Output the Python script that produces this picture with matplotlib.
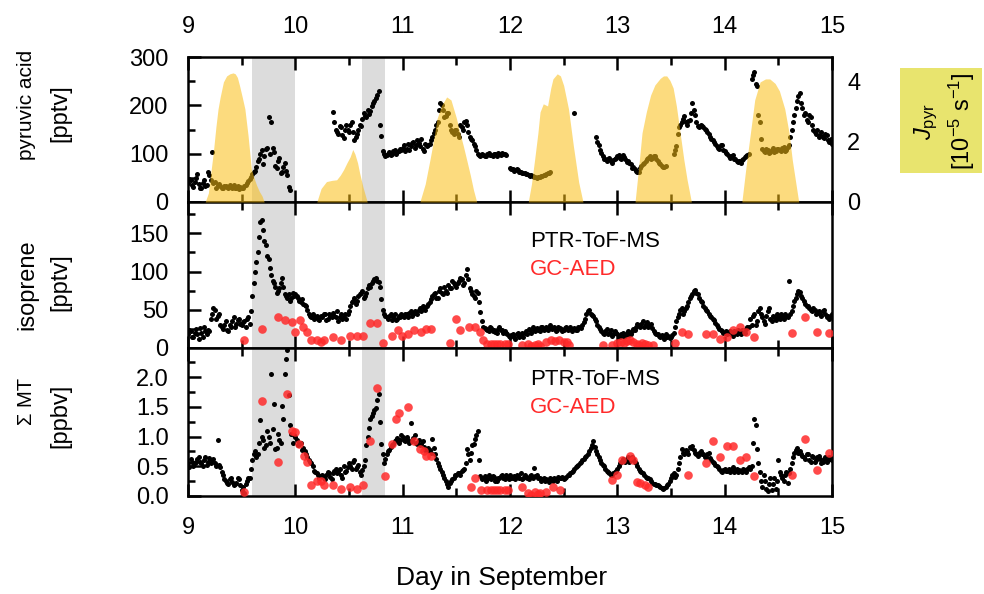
import numpy as np
import matplotlib
matplotlib.use('Agg')
import matplotlib.pyplot as plt
from matplotlib.ticker import MultipleLocator
from matplotlib.patches import Rectangle

plt.rcParams['font.family'] = ['Liberation Sans', 'DejaVu Sans']
plt.rcParams['mathtext.fontset'] = 'custom'
plt.rcParams['mathtext.rm'] = 'Liberation Sans'
plt.rcParams['mathtext.it'] = 'Liberation Sans:italic'

nan = np.nan

# PTR-ToF-MS series, read every 0.025 day from day 9.0 ("_a", 241 values)
# and at the half steps in between ("_b", 240 values)
t0 = 9.0
dt = 0.025

pyruvic_a = [
    40, 45, 32, 50, 38, 28, 46, 36, 55, 104,
    42, 36, 33, 30, 34, 28, 31, 35, 30, 27,
    30, 33, 40, 48, 58, 64, 85, 100, 78, 110,
    176, 166, 104, 70, 92, 62, 80, 55, 25, nan,
    nan, nan, nan, nan, nan, nan, nan, nan, nan, nan,
    nan, nan, nan, nan, 186, 150, 140, 155, 132, 160,
    145, 165, 128, 140, 160, 172, 178, 190, 188, 205,
    215, 230, 137, 100, 97, 104, 100, 108, 103, 110,
    112, 105, 120, 115, 125, 118, 122, 130, 105, 115,
    120, 135, 150, 165, 205, 190, 178, 185, 150, 140,
    148, 135, 155, 165, 160, 135, 128, 115, 100, 96,
    98, 95, 102, 97, 100, 96, 99, 102, 100, nan,
    70, 68, 66, 67, 62, 60, 58, 55, 55, 52,
    50, 52, 54, 56, 59, 62, nan, nan, nan, nan,
    nan, nan, nan, nan, 185, nan, nan, nan, nan, nan,
    nan, nan, 135, 118, 101, 90, 85, 92, 80, 88,
    95, 92, 98, 90, 85, 78, 72, 65, 62, 75,
    80, 88, 95, 92, 96, 85, 78, 72, 75, nan,
    nan, 100, 115, 155, 165, 178, 160, 170, 204, 180,
    158, 160, 155, 150, 140, 130, 125, 115, 110, 118,
    105, 100, 92, 98, 88, 82, 80, 90, 95, 100,
    255, 270, 240, 165, 110, 104, 108, 103, 112, 106,
    110, 105, 113, 108, 118, 150, 180, 210, 225, 195,
    185, 165, 175, 150, 140, 135, 145, 132, 138, 125,
    120,
]
pyruvic_b = [
    48, 35, 42, 58, 30, 40, 33, 62, 45, 40,
    30, 38, 29, 33, 31, 36, 30, 29, 34, 31,
    28, 36, 44, 52, 62, 72, 90, 108, 95, 112,
    100, 112, 75, 85, 60, 72, 65, 32, nan, nan,
    nan, nan, nan, nan, nan, nan, nan, nan, nan, nan,
    nan, nan, nan, nan, 165, 145, 158, 138, 148, 150,
    160, 145, 135, 150, 158, 185, 175, 182, 198, 210,
    222, 160, 105, 96, 100, 98, 105, 100, 106, 108,
    118, 110, 108, 122, 112, 128, 115, 110, 120, 118,
    128, 142, 160, 190, 200, 175, 185, 160, 145, 150,
    140, 160, 150, 168, 145, 130, 120, 108, 98, 100,
    96, 100, 98, 95, 99, 101, 97, 100, 98, nan,
    69, 64, 68, 63, 61, 59, 57, 54, 53, 51,
    51, 53, 55, 58, 60, nan, nan, nan, nan, nan,
    nan, nan, nan, nan, nan, nan, nan, nan, nan, nan,
    nan, nan, 125, 108, 95, 88, 90, 84, 86, 92,
    98, 88, 94, 82, 80, 70, 68, 63, 70, 78,
    84, 92, 90, 95, 90, 80, 74, 73, nan, nan,
    nan, 108, 140, 160, 172, 165, 168, 185, 190, 165,
    155, 158, 152, 145, 135, 128, 120, 112, 118, 108,
    102, 96, 95, 90, 85, 84, 86, 93, 98, nan,
    262, 245, 180, 130, 106, 110, 102, 108, 104, 110,
    108, 112, 106, 114, 135, 165, 195, 220, 205, 180,
    170, 180, 160, 145, 148, 138, 135, 140, 128, 130,
]

isoprene_a = [
    18, 22, 15, 25, 12, 20, 28, 18, 22, 45,
    50, 42, 30, 25, 35, 22, 28, 40, 32, 38,
    30, 35, 38, 32, 68, 99, 125, 165, 155, 135,
    116, 95, 85, 72, 78, 92, 70, 65, 62, 72,
    70, 65, 60, 58, 55, 45, 40, 38, 42, 36,
    40, 45, 38, 42, 46, 40, 35, 44, 40, 38,
    48, 60, 65, 62, 70, 75, 68, 78, 80, 88,
    92, 86, 64, 45, 40, 42, 36, 44, 38, 40,
    42, 45, 40, 48, 44, 46, 50, 48, 52, 55,
    60, 68, 72, 65, 78, 70, 75, 82, 78, 85,
    80, 88, 90, 85, 103, 78, 70, 65, 72, 47,
    28, 25, 22, 26, 24, 20, 27, 23, 22, 18,
    15, 18, 12, 20, 16, 14, 22, 25, 20, 24,
    26, 22, 28, 25, 24, 30, 26, 22, 28, 25,
    24, 27, 25, 22, 26, 24, 28, 30, 38, 48,
    45, 42, 35, 28, 22, 18, 25, 20, 16, 22,
    18, 14, 20, 16, 22, 18, 25, 28, 30, 32,
    28, 34, 30, 26, 20, 18, 15, 14, 18, 16,
    14, 20, 35, 45, 52, 48, 55, 65, 70, 76,
    70, 62, 55, 50, 45, 40, 36, 30, 25, 22,
    20, 18, 22, 16, 20, 24, 18, 22, 25, 28,
    30, 45, 35, 52, 40, 32, 48, 38, 42, 36,
    40, 45, 38, 42, 88, 48, 62, 70, 73, 65,
    58, 55, 50, 52, 45, 48, 42, 50, 40, 38,
    45,
]
isoprene_b = [
    24, 14, 20, 18, 26, 15, 22, 24, 38, 52,
    38, 45, 28, 30, 24, 30, 35, 28, 36, 32,
    34, 28, 40, 48, 85, 112, 145, 168, 140, 120,
    105, 88, 80, 75, 85, 80, 68, 70, 66, 68,
    68, 62, 64, 56, 50, 42, 44, 40, 38, 42,
    44, 36, 45, 40, 42, 48, 40, 38, 44, 45,
    55, 62, 58, 68, 72, 66, 72, 82, 85, 90,
    88, 80, 50, 42, 38, 45, 40, 36, 42, 44,
    40, 44, 46, 42, 48, 45, 52, 55, 50, 58,
    64, 70, 66, 75, 72, 80, 72, 78, 88, 82,
    85, 92, 82, 95, 90, 75, 68, 74, 60, 35,
    26, 24, 28, 22, 21, 25, 24, 20, 19, 16,
    17, 14, 18, 15, 19, 20, 18, 23, 27, 22,
    24, 27, 23, 28, 26, 25, 28, 24, 26, 22,
    26, 23, 28, 25, 24, 27, 26, 34, 44, 50,
    43, 38, 30, 25, 20, 22, 18, 24, 18, 20,
    16, 18, 15, 20, 17, 22, 24, 32, 28, 35,
    32, 28, 32, 22, 18, 16, 17, 12, 15, 13,
    17, 28, 40, 50, 45, 52, 60, 68, 74, 72,
    66, 60, 52, 48, 42, 38, 33, 28, 24, 20,
    22, 20, 18, 22, 18, 20, 24, 20, 27, 38,
    42, 30, 48, 45, 35, 42, 52, 35, 40, 44,
    38, 42, 44, 40, 45, 55, 66, 75, 68, 62,
    55, 52, 48, 50, 46, 44, 48, 45, 42, 40,
]

monoterpenes_a = [
    0.55, 0.62, 0.50, 0.58, 0.65, 0.55, 0.60, 0.52, 0.64, 0.60,
    0.55, 0.95, 0.48, 0.35, 0.25, 0.20, 0.30, 0.18, 0.22, 0.28,
    0.10, 0.05, 0.25, 0.30, 0.60, 0.75, 0.70, 1.28, 0.95, 0.85,
    1.00, 2.05, 1.54, 0.80, 0.95, 1.51, 2.05, 2.45, 1.19, 0.90,
    1.00, 0.85, 0.90, 0.80, 0.70, 0.60, 0.55, 0.42, 0.38, 0.30,
    0.35, 0.28, 0.40, 0.32, 0.38, 0.45, 0.40, 0.35, 0.50, 0.42,
    0.55, 0.45, 0.60, 0.48, 0.40, 0.44, 0.60, 1.00, 1.30, 1.40,
    1.48, 1.71, 0.87, 0.56, 0.70, 0.78, 0.85, 0.92, 0.98, 0.95,
    1.00, 0.92, 0.95, 1.22, 0.98, 0.90, 0.95, 0.88, 0.82, 0.75,
    0.78, 0.96, 0.70, 0.55, 0.45, 0.35, 0.25, 0.15, 0.25, 0.30,
    0.35, 0.38, 0.42, 0.45, 0.79, 0.60, 0.85, 0.96, 1.10, 0.33,
    0.30, 0.25, 0.35, 0.28, 0.32, 0.25, 0.30, 0.35, 0.28, 0.32,
    0.35, 0.30, 0.28, 0.33, 0.38, 0.30, 0.32, 0.28, 0.35, 0.47,
    0.35, 0.30, 0.28, 0.25, 0.27, 0.30, 0.26, 0.28, 0.32, 0.30,
    0.28, 0.32, 0.35, 0.40, 0.45, 0.50, 0.55, 0.60, 0.65, 0.70,
    0.80, 0.93, 0.75, 0.65, 0.55, 0.50, 0.42, 0.38, 0.35, 0.40,
    0.45, 0.55, 0.62, 0.58, 0.65, 0.60, 0.62, 0.55, 0.45, 0.40,
    0.35, 0.30, 0.28, 0.22, 0.20, 0.18, 0.15, 0.12, 0.15, 0.20,
    0.30, 0.38, 0.35, 0.56, 0.79, 0.70, 0.75, 0.82, 0.84, 0.72,
    0.68, 0.75, 0.70, 0.65, 0.72, 0.60, 0.55, 0.50, 0.45, 0.40,
    0.45, 0.42, 0.40, 0.48, 0.44, 0.40, 0.42, 0.45, 0.40, 0.48,
    0.50, 1.30, 0.79, 0.40, 0.15, 0.25, 0.08, 0.30, 0.20, 0.12,
    0.60, 0.35, 0.25, 0.40, 0.38, 0.55, 0.72, 0.80, 0.75, 0.68,
    0.62, 0.70, 0.58, 0.65, 0.60, 0.68, 0.55, 0.62, 0.58, 0.65,
    0.60,
]
monoterpenes_b = [
    0.48, 0.58, 0.55, 0.62, 0.58, 0.50, 0.66, 0.58, 0.55, 0.62,
    0.50, 0.52, 0.40, 0.28, 0.22, 0.28, 0.24, 0.20, 0.30, 0.18,
    0.15, 0.20, 0.30, 0.45, 0.70, 0.65, 0.90, 1.00, 0.80, 1.10,
    0.90, 1.13, 0.79, 1.05, 0.90, 1.30, 2.31, 1.70, 1.05, 1.02,
    0.95, 0.88, 0.78, 0.75, 0.65, 0.58, 0.50, 0.40, 0.35, 0.33,
    0.30, 0.35, 0.38, 0.28, 0.42, 0.38, 0.45, 0.30, 0.40, 0.48,
    0.50, 0.58, 0.45, 0.52, 0.36, 0.50, 0.85, 1.15, 1.35, 1.45,
    1.62, 1.25, 0.70, 0.62, 0.75, 0.82, 0.88, 0.95, 0.90, 1.02,
    0.95, 1.00, 0.90, 0.92, 1.02, 0.88, 0.85, 0.92, 0.78, 0.80,
    0.72, 0.80, 0.62, 0.50, 0.40, 0.30, 0.20, 0.22, 0.28, 0.35,
    0.38, 0.36, 0.44, 0.55, 0.70, 0.72, 0.88, 1.02, 0.60, 0.28,
    0.33, 0.28, 0.30, 0.33, 0.26, 0.30, 0.33, 0.30, 0.35, 0.28,
    0.30, 0.33, 0.35, 0.30, 0.28, 0.35, 0.30, 0.33, 0.30, 0.33,
    0.30, 0.25, 0.30, 0.28, 0.24, 0.28, 0.30, 0.26, 0.30, 0.32,
    0.30, 0.35, 0.38, 0.42, 0.48, 0.52, 0.58, 0.62, 0.68, 0.75,
    0.85, 0.82, 0.70, 0.60, 0.52, 0.45, 0.40, 0.36, 0.38, 0.42,
    0.50, 0.58, 0.60, 0.62, 0.58, 0.65, 0.58, 0.50, 0.42, 0.38,
    0.32, 0.30, 0.25, 0.20, 0.18, 0.16, 0.13, 0.14, 0.18, 0.25,
    0.35, 0.32, 0.45, 0.65, 0.72, 0.78, 0.70, 0.80, 0.78, 0.70,
    0.72, 0.70, 0.66, 0.70, 0.64, 0.58, 0.52, 0.48, 0.42, 0.44,
    0.42, 0.46, 0.44, 0.40, 0.46, 0.44, 0.40, 0.44, 0.46, 0.45,
    0.90, 1.19, 0.55, 0.25, 0.35, 0.12, 0.20, 0.10, 0.30, 0.25,
    0.40, 0.30, 0.35, 0.22, 0.45, 0.65, 0.78, 0.72, 0.70, 0.65,
    0.70, 0.60, 0.68, 0.58, 0.65, 0.62, 0.58, 0.66, 0.60, 0.62,
]

# GC-AED samples
iso_gc_t = [9.52, 9.69, 9.84, 9.90, 9.97, 10.00, 10.04, 10.07, 10.11, 10.15,
            10.20, 10.24, 10.27, 10.35, 10.43, 10.51, 10.57, 10.63, 10.70, 10.76,
            10.82, 10.90, 10.96, 10.99, 11.05, 11.11, 11.17, 11.22, 11.26, 11.44,
            11.50, 11.53, 11.62, 11.67, 11.72, 11.75, 11.79, 11.82, 11.85, 11.88,
            11.91, 11.95, 11.98, 12.11, 12.17, 12.20, 12.23, 12.26, 12.28, 12.34,
            12.38, 12.42, 12.46, 12.50, 12.53, 12.55, 12.87, 12.95, 13.00, 13.03,
            13.06, 13.09, 13.12, 13.15, 13.18, 13.20, 13.23, 13.26, 13.29, 13.33,
            13.54, 13.60, 13.66, 13.83, 13.89, 13.96, 14.02, 14.08, 14.14, 14.20,
            14.27, 14.63, 14.75, 14.86, 14.97]
iso_gc_v = [10, 25, 40, 36, 34, 21, 36, 27, 21, 10,
            10, 8, 10, 14, 10, 16, 16, 16, 33, 33,
            7, 16, 23, 16, 18, 23, 21, 25, 25, 7,
            38, 23, 27, 27, 21, 10, 5, 5, 5, 5,
            5, 5, 5, 4, 5, 3, 4, 5, 3, 8,
            10, 9, 10, 8, 8, 4, 4, 4, 6, 8,
            7, 9, 10, 8, 5, 4, 6, 5, 4, 4,
            6, 21, 18, 18, 18, 12, 14, 23, 27, 21,
            14, 20, 40, 21, 20]

mt_gc_t = [9.52, 9.69, 9.84, 9.92, 9.97, 10.00, 10.03, 10.08, 10.11, 10.15,
           10.20, 10.24, 10.27, 10.35, 10.43, 10.51, 10.57, 10.63, 10.70, 10.76,
           10.84, 10.90, 10.94, 10.97, 11.05, 11.11, 11.16, 11.20, 11.22, 11.26,
           11.64, 11.67, 11.73, 11.79, 11.82, 11.85, 11.88, 11.91, 11.95, 11.98,
           12.11, 12.17, 12.20, 12.23, 12.26, 12.28, 12.34, 12.40, 12.47, 12.95,
           13.00, 13.04, 13.12, 13.15, 13.18, 13.21, 13.26, 13.29, 13.66, 13.83,
           13.89, 13.96, 14.02, 14.08, 14.14, 14.20, 14.27, 14.63, 14.75, 14.86,
           14.97]
mt_gc_v = [0.07, 1.60, 0.58, 1.71, 1.10, 1.08, 0.87, 0.68, 0.58, 0.18,
           0.26, 0.26, 0.18, 0.18, 0.12, 0.15, 0.12, 0.18, 0.93, 1.82,
           0.33, 0.87, 1.30, 1.39, 1.49, 0.93, 0.79, 0.76, 0.68, 0.68,
           0.15, 0.30, 0.10, 0.10, 0.10, 0.10, 0.10, 0.10, 0.10, 0.10,
           0.15, 0.05, 0.02, 0.07, 0.03, 0.05, 0.07, 0.15, 0.10, 0.27,
           0.36, 0.61, 0.68, 0.61, 0.24, 0.22, 0.18, 0.15, 0.36, 0.55,
           0.93, 0.65, 0.84, 0.84, 0.60, 0.65, 0.33, 0.36, 0.96, 0.44,
           0.72]

# photolysis frequency J_pyr (1e-5 s-1)
jpyr_t = [9.16, 9.19, 9.21, 9.236, 9.26, 9.28, 9.30, 9.33, 9.36, 9.39, 9.42, 9.44,
          9.46, 9.48, 9.505, 9.53, 9.56, 9.59, 9.615, 9.64, 9.665, 9.69, 9.71,
          10.20, 10.24, 10.29, 10.34, 10.385, 10.42, 10.45, 10.48, 10.51, 10.535,
          10.555, 10.58, 10.60, 10.63, 10.67,
          11.16, 11.21, 11.255, 11.29, 11.32, 11.36, 11.41, 11.45, 11.50, 11.53,
          11.565, 11.60, 11.63, 11.66, 11.69,
          12.17, 12.20, 12.23, 12.26, 12.28, 12.31, 12.35, 12.38, 12.40, 12.44,
          12.47, 12.50, 12.545, 12.59, 12.64, 12.68,
          13.165, 13.20, 13.23, 13.27, 13.31, 13.35, 13.40, 13.43, 13.46, 13.49,
          13.52, 13.55, 13.585, 13.62, 13.65, 13.69,
          14.16, 14.20, 14.24, 14.28, 14.33, 14.38, 14.42, 14.47, 14.51, 14.56,
          14.60, 14.63, 14.66, 14.69]
jpyr_v = [0, 0.3, 0.9, 1.66, 2.5, 3.1, 3.5, 4.0, 4.2, 4.27, 4.3, 4.27,
          4.15, 3.88, 3.5, 3.1, 2.2, 1.1, 0.8, 0.55, 0.35, 0.2, 0,
          0, 0.45, 0.68, 0.72, 0.74, 0.9, 1.08, 1.3, 1.5, 1.75,
          1.6, 1.3, 0.95, 0.5, 0,
          0, 0.6, 1.42, 2.1, 2.77, 3.2, 3.5, 3.4, 2.8, 2.35,
          1.87, 1.35, 0.9, 0.4, 0,
          0, 0.6, 1.43, 2.3, 3.0, 3.27, 3.2, 3.8, 4.1, 4.27,
          4.2, 3.88, 3.1, 1.88, 0.66, 0,
          0, 1.2, 2.3, 3.0, 3.56, 3.9, 4.12, 4.2, 4.2, 4.05,
          3.8, 3.2, 2.3, 1.4, 0.74, 0,
          0, 1.2, 2.3, 3.4, 4.0, 4.1, 4.1, 3.95, 3.7, 3.1,
          2.3, 1.4, 0.7, 0]

# gray marked periods
shaded = [(9.6, 10.0), (10.62, 10.84)]

t_a = t0 + dt * np.arange(len(pyruvic_a))
t_b = t0 + dt * (np.arange(len(pyruvic_b)) + 0.5)

W, H = 984, 594
fig = plt.figure(figsize=(W / 100, H / 100), dpi=100)


def px_axes(top, bottom):
    return [188 / W, 1 - bottom / H, 644 / W, (bottom - top) / H]


ax1 = fig.add_axes(px_axes(57, 202))
ax2 = fig.add_axes(px_axes(202, 348))
ax3 = fig.add_axes(px_axes(348, 496))

red = '#ff2a2a'
dot = dict(ls='none', marker='o', color='k', ms=3.6, mec='none', zorder=2)
gc = dict(ls='none', marker='o', color=red, ms=6.2, mec='none', alpha=0.85, zorder=3)

for ax in (ax1, ax2, ax3):
    for a, b in shaded:
        ax.axvspan(a, b, color='#dcdcdc', lw=0, zorder=0)
    ax.set_xlim(9, 15)
    ax.xaxis.set_major_locator(MultipleLocator(1))
    ax.xaxis.set_minor_locator(MultipleLocator(0.5))
    ax.tick_params(axis='x', which='both', direction='in', top=True, bottom=True,
                   width=1.8, labelsize=17, labelbottom=False)
    ax.tick_params(axis='x', which='major', length=9)
    ax.tick_params(axis='x', which='minor', length=5.5)
    ax.tick_params(axis='y', which='both', direction='in', left=True, right=False,
                   width=1.8, labelsize=17, pad=14)
    ax.tick_params(axis='y', which='major', length=9)
    ax.tick_params(axis='y', which='minor', length=5)
    for s in ax.spines.values():
        s.set_linewidth(1.8)

# panel 1: pyruvic acid + J_pyr
ax1.plot(t_a, pyruvic_a, **dot)
ax1.plot(t_b, pyruvic_b, **dot)
ax1.set_ylim(0, 300)
ax1.yaxis.set_major_locator(MultipleLocator(100))
ax1.yaxis.set_minor_locator(MultipleLocator(50))
ax1.tick_params(axis='x', labeltop=True, pad=13.5)

axj = ax1.twinx()
axj.fill_between(jpyr_t, 0, jpyr_v, color='#fabe14', alpha=0.55, lw=0)
axj.set_ylim(0, 4.83)
axj.set_xlim(9, 15)
axj.yaxis.set_major_locator(MultipleLocator(2))
axj.tick_params(axis='y', length=0, labelsize=17, pad=11)
for s in axj.spines.values():
    s.set_visible(False)

# panel 2: isoprene
ax2.plot(t_a, isoprene_a, **dot)
ax2.plot(t_b, isoprene_b, **dot)
ax2.plot(iso_gc_t, iso_gc_v, **gc)
ax2.set_ylim(0, 191)
ax2.yaxis.set_major_locator(MultipleLocator(50))
ax2.yaxis.set_minor_locator(MultipleLocator(25))
ax2.text(0.531, 0.73, 'PTR-ToF-MS', transform=ax2.transAxes, fontsize=16,
         color='k', va='center')
ax2.text(0.531, 0.54, 'GC-AED', transform=ax2.transAxes, fontsize=16,
         color=red, va='center')

# panel 3: monoterpenes
ax3.plot(t_a, monoterpenes_a, **dot)
ax3.plot(t_b, monoterpenes_b, **dot)
ax3.plot(mt_gc_t, mt_gc_v, **gc)
ax3.set_ylim(0, 2.49)
ax3.yaxis.set_major_locator(MultipleLocator(0.5))
ax3.yaxis.set_minor_locator(MultipleLocator(0.25))
ax3.yaxis.set_major_formatter(plt.FormatStrFormatter('%.1f'))
ax3.tick_params(axis='x', labelbottom=True, pad=15)
ax3.text(0.531, 0.79, 'PTR-ToF-MS', transform=ax3.transAxes, fontsize=16,
         color='k', va='center')
ax3.text(0.531, 0.60, 'GC-AED', transform=ax3.transAxes, fontsize=16,
         color=red, va='center')


def ftext(x, y, s, **kw):
    fig.text(x / W, 1 - y / H, s, ha='center', va='center', **kw)


# y labels
ftext(27, 105, 'pyruvic acid', rotation=90, fontsize=15)
ftext(60, 113, '[pptv]', rotation=90, fontsize=17)
ftext(27, 285, 'isoprene', rotation=90, fontsize=17)
ftext(60, 282, '[pptv]', rotation=90, fontsize=17)
ftext(27, 401, 'Σ MT', rotation=90, fontsize=14.5)
ftext(60, 416, '[ppbv]', rotation=90, fontsize=17)

ftext(502, 578, 'Day in September', fontsize=19)

# J_pyr label box
fig.patches.append(Rectangle((900 / W, 1 - 173 / H), 82 / W, 105 / H,
                             transform=fig.transFigure, facecolor='#e8e46e',
                             edgecolor='none', zorder=0))
ftext(926, 122, r'$J_{\mathrm{pyr}}$', rotation=90, fontsize=17)
ftext(962, 121, r'[10$^{-5}$ s$^{-1}$]', rotation=90, fontsize=17)

fig.savefig('out.png', dpi=100)
